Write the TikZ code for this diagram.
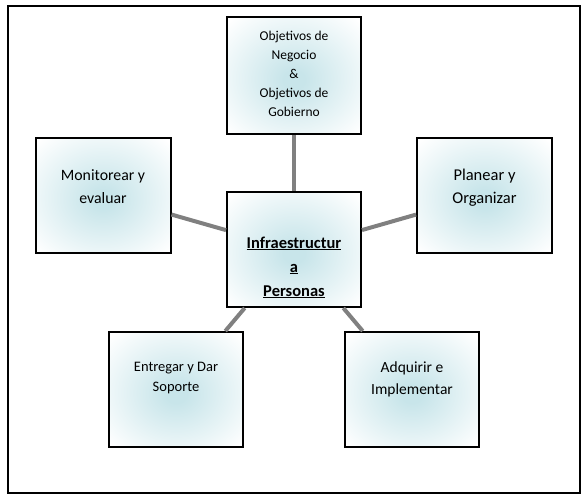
\documentclass[tikz,border=0pt]{standalone}
\usepackage{fontspec}
\setmainfont{Carlito}
\definecolor{glow}{RGB}{200,229,234}
\definecolor{linkgray}{RGB}{128,128,128}
\pgfdeclareradialshading{boxglow}{\pgfpoint{0bp}{-2bp}}{color(0bp)=(glow); color(4bp)=(glow); color(34bp)=(white); color(50bp)=(white)}

\begin{document}
\begin{tikzpicture}[x=1pt,y=-1pt,
    box/.style={draw,line width=2pt,shading=boxglow,minimum width=134pt,minimum height=115pt,inner sep=0pt},
    link/.style={linkgray,line width=4pt},
    txt/.style={align=center,inner sep=0pt}]
          \useasboundingbox (0,0) rectangle (585,498);
          \draw[line width=2pt] (7.5,6) rectangle (580,492.5);
          % boxes
          \node[box,minimum height=117pt] (goals) at (294,75.5) {};
          \node[box] (infra) at (294,249.5) {};
          \node[box,minimum width=135pt] (monitor) at (103,195) {};
          \node[box,minimum width=135pt] (plan) at (484.5,195) {};
          \node[box] (deliver) at (176,389.5) {};
          \node[box] (acquire) at (412,389.5) {};
          % links
          \draw[link] (infra) -- (goals);
          \draw[link] (infra) -- (monitor);
          \draw[link] (infra) -- (plan);
          \draw[link] (infra) -- (deliver);
          \draw[link] (infra) -- (acquire);
          % texts
          \node[txt,font=\fontsize{13.5}{19}\selectfont] (goalsT) at (294,74) {Objetivos de\\Negocio\\\&\\Objetivos de\\Gobierno};
          \node[txt,font=\bfseries\fontsize{16.5}{24}\selectfont] (infraT) at (294,267.5) {\underline{Infraestructur}\\\underline{a}\\\underline{Personas}};
          \node[txt,font=\fontsize{15.8}{22.7}\selectfont] (monitorT) at (103,186.5) {Monitorear y\\evaluar};
          \node[txt,font=\fontsize{16.5}{23}\selectfont] (planT) at (484.5,187.5) {Planear y\\Organizar};
          \node[txt,font=\fontsize{14.5}{20}\selectfont] (deliverT) at (176,378) {Entregar y Dar\\Soporte};
          \node[txt,font=\fontsize{15.5}{22}\selectfont] (acquireT) at (412,379) {Adquirir e\\Implementar};
        \end{tikzpicture}
\end{document}
